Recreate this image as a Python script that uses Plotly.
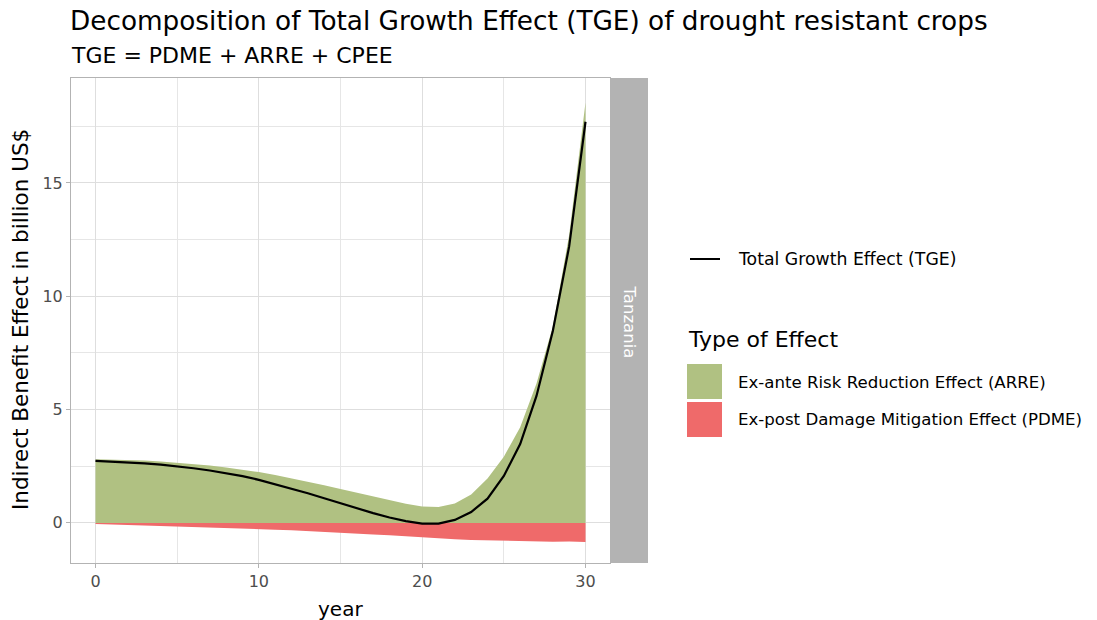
import plotly.graph_objects as go

years = list(range(0, 31))
arre = [2.81, 2.80, 2.78, 2.75, 2.71, 2.66, 2.60, 2.53, 2.44, 2.35, 2.24, 2.11, 1.97, 1.82,
        1.66, 1.50, 1.34, 1.17, 1.00, 0.84, 0.72, 0.70, 0.86, 1.25, 1.96, 2.92, 4.22, 6.15,
        8.66, 12.7, 18.55]
pdme = [-0.05, -0.07, -0.09, -0.11, -0.13, -0.15, -0.18, -0.20, -0.22, -0.25, -0.27, -0.30,
        -0.33, -0.36, -0.40, -0.43, -0.47, -0.51, -0.55, -0.60, -0.65, -0.69, -0.72, -0.75,
        -0.77, -0.79, -0.81, -0.82, -0.83, -0.82, -0.84]
tge = [2.74, 2.71, 2.68, 2.63, 2.57, 2.50, 2.41, 2.31, 2.19, 2.06, 1.90, 1.71, 1.51, 1.31,
       1.09, 0.87, 0.64, 0.43, 0.24, 0.08, -0.03, -0.03, 0.13, 0.48, 1.07, 2.07, 3.48, 5.60,
       8.47, 12.2, 17.7]

title_text = "Decomposition of Total Growth Effect (TGE) of drought resistant crops"
subtitle_text = "TGE = PDME + ARRE + CPEE"
facet_label = "Tanzania"
x_title = "year"
y_title = "Indirect Benefit Effect in billion US$"
line_name = "Total Growth Effect (TGE)"
legend_title = "Type of Effect"
arre_name = "Ex-ante Risk Reduction Effect (ARRE)"
pdme_name = "Ex-post Damage Mitigation Effect (PDME)"

GREEN = "#b0c182"
RED = "#ef6a6a"
FONT = "DejaVu Sans"

# page body has an 8px margin; lay out in reference pixel coords and offset
OFF = 8
W, H = 1097 - OFF, 620 - OFF
L, R, T, B = 71, 610, 78, 563  # panel edges in reference pixel coords
pw, ph = R - L, B - T


def px(xp):
    return (xp - L) / pw


def py(yp):
    return (B - yp) / ph


fig = go.Figure()
fig.add_trace(go.Scatter(x=years, y=arre, mode="lines", fill="tozeroy", fillcolor=GREEN,
                         line=dict(width=0, color=GREEN), name=arre_name, showlegend=False,
                         hoverinfo="skip"))
fig.add_trace(go.Scatter(x=years, y=pdme, mode="lines", fill="tozeroy", fillcolor=RED,
                         line=dict(width=0, color=RED), name=pdme_name, showlegend=False,
                         hoverinfo="skip"))
fig.add_trace(go.Scatter(x=years, y=tge, mode="lines", line=dict(width=2.2, color="black"),
                         name=line_name, showlegend=False))

grid_major = "#dedede"
grid_minor = "#e6e6e6"
tick_font = dict(family=FONT, size=16, color="#4d4d4d")
fig.update_xaxes(range=[-1.5, 31.5], tickvals=[0, 10, 20, 30], showgrid=True,
                 gridcolor=grid_major, gridwidth=1.2,
                 minor=dict(tickvals=[5, 15, 25], showgrid=True, gridcolor=grid_minor,
                            gridwidth=1, ticks=""),
                 ticks="outside", ticklen=4, tickcolor="#b3b3b3", tickwidth=1,
                 showline=True, mirror=True, linecolor="#b3b3b3", linewidth=1,
                 zeroline=False, tickfont=tick_font)
fig.update_yaxes(range=[-1.77, 19.63], tickvals=[0, 5, 10, 15], showgrid=True,
                 gridcolor=grid_major, gridwidth=1.2,
                 minor=dict(tickvals=[2.5, 7.5, 12.5, 17.5], showgrid=True,
                            gridcolor=grid_minor, gridwidth=1, ticks=""),
                 ticks="outside", ticklen=4, tickcolor="#b3b3b3", tickwidth=1,
                 showline=True, mirror=True, linecolor="#b3b3b3", linewidth=1,
                 zeroline=False, tickfont=tick_font)

shapes = []
annotations = []


def text(t, x, y, size, xanchor="left", angle=0, color="black"):
    annotations.append(dict(text=t, xref="paper", yref="paper", x=px(x), y=py(y),
                            showarrow=False, xanchor=xanchor, yanchor="middle",
                            textangle=angle, font=dict(family=FONT, size=size, color=color)))


# facet strip
shapes.append(dict(type="rect", xref="paper", yref="paper", x0=px(611), x1=px(648),
                   y0=0, y1=1, fillcolor="#b3b3b3", line=dict(width=0), layer="below"))
text(facet_label, 629.5, 322, 16.5, xanchor="center", angle=90, color="white")
# titles
text(title_text, 68, 21, 26.3)
text(subtitle_text, 69, 56, 22)
text(x_title, 340.5, 609, 20, xanchor="center")
text(y_title, 20, 320, 21.5, xanchor="center", angle=-90)
# legend (drawn manually)
shapes.append(dict(type="line", xref="paper", yref="paper", x0=px(690), x1=px(720),
                   y0=py(259), y1=py(259), line=dict(color="black", width=2)))
text(line_name, 736, 259, 17.3)
text(legend_title, 686, 339, 22)
shapes.append(dict(type="rect", xref="paper", yref="paper", x0=px(687), x1=px(722),
                   y0=py(399), y1=py(364), fillcolor=GREEN, line=dict(width=0)))
shapes.append(dict(type="rect", xref="paper", yref="paper", x0=px(687), x1=px(722),
                   y0=py(437), y1=py(402), fillcolor=RED, line=dict(width=0)))
text(arre_name, 736, 382, 16.6)
text(pdme_name, 736, 420, 16.6)

fig.update_layout(width=W, height=H,
                  margin=dict(l=L - OFF, r=(1097 - R), t=T - OFF, b=(620 - B)),
                  plot_bgcolor="white", paper_bgcolor="white", showlegend=False,
                  shapes=shapes, annotations=annotations,
                  font=dict(family=FONT))

fig.write_html("out.html")
